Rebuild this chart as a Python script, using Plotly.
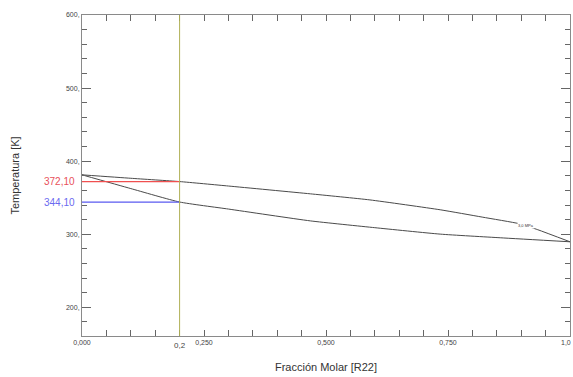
import plotly.graph_objects as go

# Data
x_dew = [0.0, 0.1, 0.2, 0.3, 0.468, 0.59, 0.734, 0.82, 0.897, 0.934, 1.0]
T_dew = [381.3, 376.6, 372.1, 366.0, 355.3, 347.0, 333.5, 323.5, 314.3, 306.2, 289.7]
x_bub = [0.0, 0.1, 0.2, 0.3, 0.468, 0.6, 0.734, 0.857, 1.0]
T_bub = [381.3, 362.5, 344.1, 334.5, 318.3, 309.0, 300.2, 295.2, 289.7]

x_sel = 0.2
T_dew_sel = 372.1
T_bub_sel = 344.1

y_tickvals = [200, 300, 400, 500, 600]
y_ticktext = ["200,", "300,", "400,", "500,", "600,"]
x_tickvals = [0.0, 0.25, 0.5, 0.75]
x_ticktext = ["0,000", "0,250", "0,500", "0,750"]
x_last_label = "1,0"

FONT = "Arial, Liberation Sans, sans-serif"
CURVE = "#4a4a4a"

fig = go.Figure()
fig.add_trace(go.Scatter(x=x_dew, y=T_dew, mode="lines", line=dict(color=CURVE, width=1, shape="spline", smoothing=0.5), hoverinfo="skip"))
fig.add_trace(go.Scatter(x=x_bub, y=T_bub, mode="lines", line=dict(color=CURVE, width=1, shape="spline", smoothing=0.5), hoverinfo="skip"))
# Horizontal reading lines
fig.add_trace(go.Scatter(x=[0, x_sel], y=[T_dew_sel, T_dew_sel], mode="lines", line=dict(color="#f05050", width=1.2), hoverinfo="skip"))
fig.add_trace(go.Scatter(x=[0, x_sel], y=[T_bub_sel, T_bub_sel], mode="lines", line=dict(color="#5a5af0", width=1.2), hoverinfo="skip"))

fig.add_shape(type="line", xref="x", yref="paper", x0=x_sel, x1=x_sel, y0=0, y1=1,
              line=dict(color="#b0b055", width=1))

fig.add_annotation(x=0.91, y=312.0, xref="x", yref="y", text="3,0 MPa", showarrow=False,
                   font=dict(size=4, color="#333", family=FONT), bgcolor="white", borderpad=0)
fig.add_annotation(x=0, y=T_dew_sel, xref="paper", yref="y", text="372,10", showarrow=False,
                   xanchor="right", xshift=-5, font=dict(size=10, color="#e8505a", family=FONT))
fig.add_annotation(x=0, y=T_bub_sel, xref="paper", yref="y", text="344,10", showarrow=False,
                   xanchor="right", xshift=-5, font=dict(size=10, color="#6a6af0", family=FONT))
fig.add_annotation(x=x_sel, y=0, xref="x", yref="paper", text="0,2", showarrow=False,
                   yanchor="top", yshift=-3, font=dict(size=8, color="#444", family=FONT))
fig.add_annotation(x=1, y=0, xref="x", yref="paper", text=x_last_label, showarrow=False,
                   xanchor="right", xshift=3, yanchor="top", yshift=-1,
                   font=dict(size=7, color="#444", family=FONT))

fig.update_layout(
    width=573, height=377,
    margin=dict(l=82, r=3, t=15, b=41),
    paper_bgcolor="white", plot_bgcolor="white",
    showlegend=False,
    font=dict(family=FONT, color="#333"),
    xaxis=dict(range=[0, 1], showgrid=False, zeroline=False, automargin=False,
               showline=True, linecolor="#8a8a8a", linewidth=1, mirror="ticks",
               ticks="inside", ticklen=6, tickcolor="#666", tickwidth=1,
               tickvals=x_tickvals, ticktext=x_ticktext,
               tickfont=dict(size=7, color="#444"),
               minor=dict(dtick=0.05, tick0=0, ticks="inside", ticklen=6, tickcolor="#666", showgrid=False),
               title=dict(text="Fracción Molar [R22]", font=dict(size=11, color="#333"), standoff=17)),
    yaxis=dict(range=[160.8, 600], showgrid=False, zeroline=False, automargin=False,
               showline=True, linecolor="#8a8a8a", linewidth=1, mirror="ticks",
               ticks="inside", ticklen=9, tickcolor="#666", tickwidth=1,
               tickvals=y_tickvals, ticktext=y_ticktext,
               tickfont=dict(size=7, color="#444"),
               minor=dict(dtick=20, tick0=0, ticks="inside", ticklen=5, tickcolor="#666", showgrid=False),
               title=dict(text="Temperatura [K]", font=dict(size=11, color="#333"), standoff=44)),
)

fig.write_html("out.html")
